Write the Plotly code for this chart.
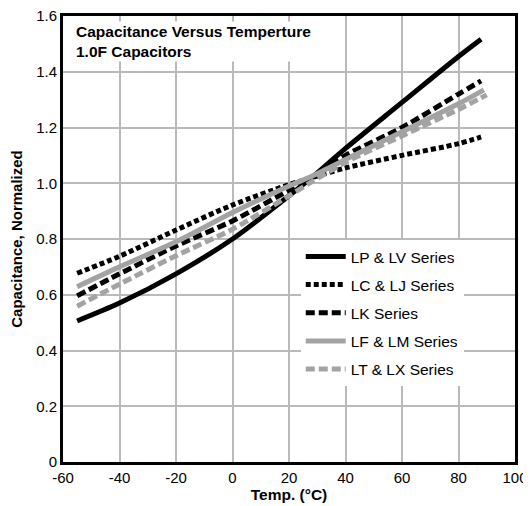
import plotly.graph_objects as go

temps_lp = [-55, -40, -20, 0, 20, 28, 40, 60, 80, 88]
cap_lp = [0.506, 0.570, 0.675, 0.800, 0.955, 1.020, 1.125, 1.290, 1.455, 1.517]

temps_lc = [-55, -40, -20, 0, 20, 28, 40, 60, 80, 88]
cap_lc = [0.677, 0.738, 0.832, 0.922, 0.995, 1.020, 1.055, 1.100, 1.142, 1.166]

temps_lk = [-55, -40, -20, 0, 20, 28, 40, 60, 80, 88]
cap_lk = [0.596, 0.675, 0.775, 0.865, 0.975, 1.020, 1.100, 1.200, 1.320, 1.367]

temps_lf = [-55, -40, -20, 0, 20, 28, 40, 60, 80, 89]
cap_lf = [0.629, 0.700, 0.790, 0.895, 0.990, 1.025, 1.085, 1.185, 1.285, 1.335]

temps_lt = [-55, -40, -20, 0, 20, 28, 40, 60, 80, 90]
cap_lt = [0.559, 0.638, 0.740, 0.835, 0.955, 1.005, 1.075, 1.170, 1.265, 1.317]

series_names = ["LP & LV Series", "LC & LJ Series", "LK Series", "LF & LM Series", "LT & LX Series"]

x_ticks = [-60, -40, -20, 0, 20, 40, 60, 80, 100]
x_tick_text = ["-60", "-40", "-20", "0", "20", "40", "60", "80", "100"]
y_ticks = [0, 0.2, 0.4, 0.6, 0.8, 1.0, 1.2, 1.4, 1.6]
y_tick_text = ["0", "0.2", "0.4", "0.6", "0.8", "1.0", "1.2", "1.4", "1.6"]

FONT = "Liberation Sans, Arial, Helvetica, sans-serif"
GRAY = "#a3a3a3"

styles = [
    dict(color="black", width=5, dash="solid"),
    dict(color="black", width=5, dash="5px,3px"),
    dict(color="black", width=5, dash="9px,4px"),
    dict(color=GRAY, width=5, dash="solid"),
    dict(color=GRAY, width=5, dash="9px,4px"),
]
data = [(temps_lp, cap_lp), (temps_lc, cap_lc), (temps_lk, cap_lk), (temps_lf, cap_lf), (temps_lt, cap_lt)]

fig = go.Figure()
for i, ((xs, ys), name, st) in enumerate(zip(data, series_names, styles)):
    fig.add_trace(go.Scatter(
        x=xs, y=ys, name=name, mode="lines",
        line=dict(color=st["color"], width=st["width"], dash=st["dash"], shape="spline", smoothing=0.8),
        legendgroup=f"g{i}",
    ))

# page body has an 8px default margin, so the figure is sized/offset to compensate
fig.update_layout(
    width=523, height=498,
    margin=dict(l=55, r=16, t=8, b=44, autoexpand=False),
    paper_bgcolor="white", plot_bgcolor="white",
    font=dict(family=FONT, size=15, color="black"),
    showlegend=True,
    legend=dict(
        x=0.526, y=0.498, xanchor="left", yanchor="top",
        bgcolor="white", borderwidth=0,
        font=dict(family=FONT, size=15.5, color="black"),
        traceorder="grouped", tracegroupgap=5, itemwidth=40,
    ),
    annotations=[dict(
        text="<b>Capacitance Versus Temperture<br>1.0F Capacitors</b>",
        xref="paper", yref="paper", x=0.024, y=0.988,
        xanchor="left", yanchor="top", align="left", showarrow=False,
        bgcolor="white", borderpad=1,
        font=dict(family=FONT, size=15.5, color="black"),
    )],
)
fig.update_xaxes(
    range=[-60, 100], tickvals=x_ticks, ticktext=x_tick_text,
    showgrid=True, gridcolor="#bababa", gridwidth=1.5,
    showline=True, linecolor="black", linewidth=3, mirror=True,
    ticks="", zeroline=False, automargin=False, ticklabeloverflow="allow",
    title=dict(text="<b>Temp. (°C)</b>", font=dict(family=FONT, size=15.5), standoff=4),
    tickfont=dict(family=FONT, size=15),
)
fig.update_yaxes(
    range=[0, 1.6], tickvals=y_ticks, ticktext=y_tick_text,
    showgrid=True, gridcolor="#bababa", gridwidth=1.5,
    showline=True, linecolor="black", linewidth=3, mirror=True,
    ticks="", zeroline=False, automargin=False, ticklabeloverflow="allow",
    title=dict(text="<b>Capacitance, Normalized</b>", font=dict(family=FONT, size=15), standoff=11),
    tickfont=dict(family=FONT, size=15),
)

fig.write_html("out.html")
